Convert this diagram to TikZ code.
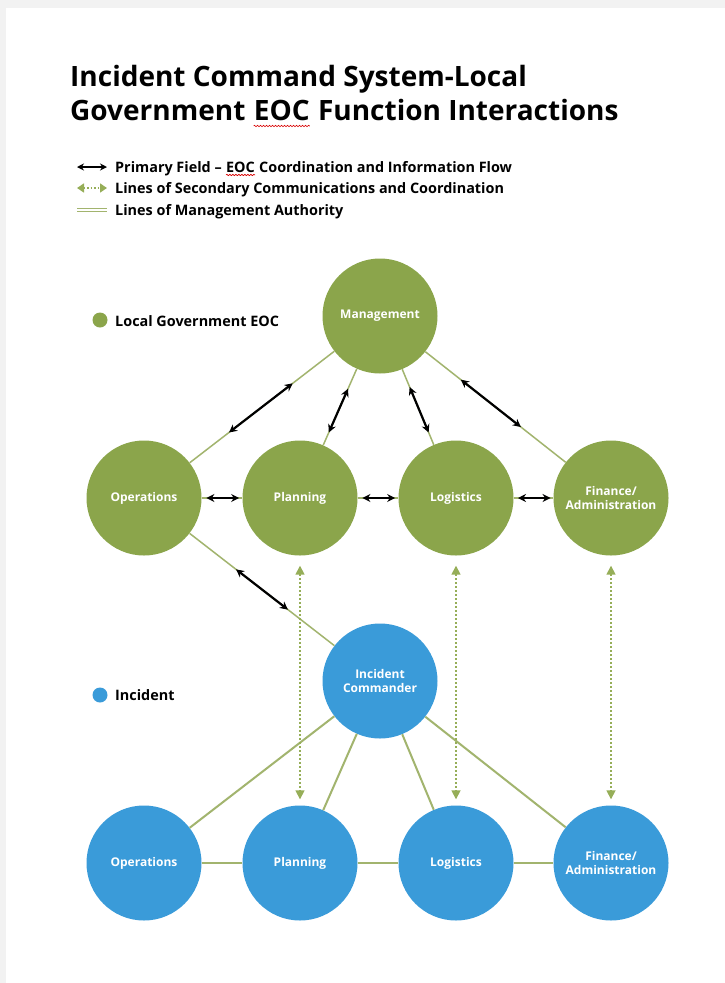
\documentclass[tikz,border=0pt]{standalone}
\usepackage{fontspec}
\setmainfont{Open Sans}
\usetikzlibrary{arrows.meta,calc,decorations.pathmorphing}
\definecolor{eocgreen}{HTML}{8BA54B}
\definecolor{incblue}{HTML}{3A9BD9}
\definecolor{mgline}{HTML}{A2B46E}
\definecolor{secgreen}{HTML}{96AE58}
\definecolor{pagegray}{HTML}{F2F2F2}
\begin{document}
\begin{tikzpicture}[x=1pt,y=-1pt,
  eocnode/.style={circle,fill=eocgreen,minimum size=115pt,inner sep=0pt,text=white,
    font=\bfseries\fontsize{12}{14.5}\selectfont,align=center},
  incnode/.style={eocnode,fill=incblue},
  mgmtline/.style={draw=mgline,line width=1.5pt},
  incline/.style={draw=mgline,line width=2pt},
  primarr/.style={draw=black,line width=2.2pt,{Stealth[length=8pt,width=8pt]}-{Stealth[length=8pt,width=8pt]}},
  secarr/.style={draw=secgreen,line width=1.6pt,dash pattern=on 2pt off 2pt,
    {Triangle[length=9pt,width=9pt]}-{Triangle[length=9pt,width=9pt]}},
  titletext/.style={inner sep=0pt,anchor=base west,font=\bfseries\fontsize{28}{33}\selectfont},
  legtext/.style={inner sep=0pt,anchor=base west,font=\bfseries\fontsize{14.4}{17}\selectfont},
  squiggle/.style={draw=red!85!black,line width=0.6pt,decorate,
    decoration={snake,amplitude=0.7pt,segment length=3pt}}
]
% page
\fill[pagegray] (0,0) rectangle (725,983);
\fill[white] (6,8) rectangle (725,983);
\useasboundingbox (0,0) rectangle (725,983);

% title
\node[titletext] (t1) at (70,86) {Incident Command System-Local};
\node[titletext] (t2a) at (70,120) {Government};
\node[titletext] (teoc) at ([xshift=8pt]t2a.base east) {EOC};
\node[titletext] (t2c) at ([xshift=8pt]teoc.base east) {Function Interactions};
\draw[squiggle] ([yshift=-6pt]teoc.base west) -- ([yshift=-6pt]teoc.base east);

% legend
\coordinate (l1a) at (77,167); \coordinate (l1b) at (107,167);
\draw[draw=black,line width=1.6pt,{Stealth[length=7pt,width=7pt]}-{Stealth[length=7pt,width=7pt]}] (l1a) -- (l1b);
\node[legtext] (lg1a) at (115,172) {Primary Field –};
\node[legtext] (lgeoc) at ([xshift=4pt]lg1a.base east) {EOC};
\node[legtext] (lg1c) at ([xshift=4pt]lgeoc.base east) {Coordination and Information Flow};
\draw[squiggle] ([yshift=-3pt]lgeoc.base west) -- ([yshift=-3pt]lgeoc.base east);

\coordinate (l2a) at (77,188); \coordinate (l2b) at (107,188);
\draw[draw=secgreen,line width=1.4pt,dash pattern=on 1.5pt off 2pt,{Triangle[length=7pt,width=9pt]}-{Triangle[length=7pt,width=9pt]}] (l2a) -- (l2b);
\node[legtext] (lg2) at (115,193) {Lines of Secondary Communications and Coordination};

\coordinate (l3a) at (77,210); \coordinate (l3b) at (107,210);
\draw[draw=mgline,line width=1.2pt,double=white,double distance=1.6pt] (l3a) -- (l3b);
\node[legtext] (lg3) at (115,215) {Lines of Management Authority};

% group labels
\fill[eocgreen] (100,320) circle (7.5);
\node[legtext] (geoc) at (115,326) {Local Government EOC};
\fill[incblue] (100,695) circle (7.5);
\node[legtext] (ginc) at (115,700) {Incident};

% EOC circles
\node[eocnode] (mg) at (380,316) {Management};
\node[eocnode] (gop) at (144,498) {Operations};
\node[eocnode] (gpl) at (300,498) {Planning};
\node[eocnode] (glo) at (456,498) {Logistics};
\node[eocnode] (gfi) at (611,498) {Finance/\\Administration};

% Incident circles
\node[incnode] (ic) at (380,681) {Incident\\Commander};
\node[incnode] (bop) at (144,863) {Operations};
\node[incnode] (bpl) at (300,863) {Planning};
\node[incnode] (blo) at (456,863) {Logistics};
\node[incnode] (bfi) at (611,863) {Finance/\\Administration};

% management authority lines (EOC)
\draw[mgmtline] (mg) -- (gop);
\draw[mgmtline] (mg) -- (gpl);
\draw[mgmtline] (mg) -- (glo);
\draw[mgmtline] (mg) -- (gfi);
\draw[mgmtline] (gop) -- (gpl);
\draw[mgmtline] (gpl) -- (glo);
\draw[mgmtline] (glo) -- (gfi);
\draw[mgmtline] (gop) -- (ic);

% management authority lines (Incident)
\draw[incline] (ic) -- (bop);
\draw[incline] (ic) -- (bpl);
\draw[incline] (ic) -- (blo);
\draw[incline] (ic) -- (bfi);
\draw[incline] (bop) -- (bpl);
\draw[incline] (bpl) -- (blo);
\draw[incline] (blo) -- (bfi);

% primary coordination arrows
\draw[primarr] ($(mg)!0.37!(gop)$) -- ($(mg)!0.64!(gop)$);
\draw[primarr] ($(mg)!0.40!(gpl)$) -- ($(mg)!0.64!(gpl)$);
\draw[primarr] ($(mg)!0.39!(glo)$) -- ($(mg)!0.64!(glo)$);
\draw[primarr] ($(mg)!0.35!(gfi)$) -- ($(mg)!0.61!(gfi)$);
\draw[primarr] ($(gop)!0.40!(gpl)$) -- ($(gop)!0.61!(gpl)$);
\draw[primarr] ($(gpl)!0.40!(glo)$) -- ($(gpl)!0.61!(glo)$);
\draw[primarr] ($(glo)!0.40!(gfi)$) -- ($(glo)!0.61!(gfi)$);
\draw[primarr] ($(gop)!0.39!(ic)$) -- ($(gop)!0.61!(ic)$);

% secondary communication lines
\draw[secarr] ([yshift=-10pt]gpl.south) -- ([yshift=6pt]bpl.north);
\draw[secarr] ([yshift=-10pt]glo.south) -- ([yshift=6pt]blo.north);
\draw[secarr] ([yshift=-10pt]gfi.south) -- ([yshift=6pt]bfi.north);
\end{tikzpicture}
\end{document}
